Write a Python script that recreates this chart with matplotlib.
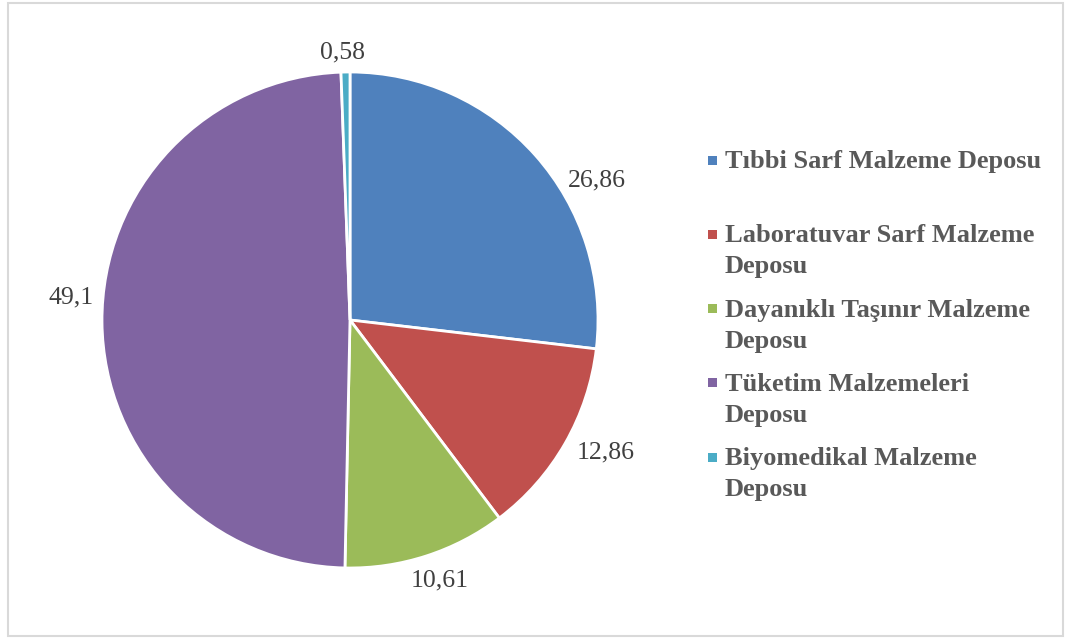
import matplotlib.pyplot as plt
from matplotlib.patches import Rectangle
import numpy as np

categories = ['Tıbbi Sarf Malzeme Deposu',
              'Laboratuvar Sarf Malzeme\nDeposu',
              'Dayanıklı Taşınır Malzeme\nDeposu',
              'Tüketim Malzemeleri\nDeposu',
              'Biyomedikal Malzeme\nDeposu']
values = [26.86, 12.86, 10.61, 49.1, 0.58]
value_labels = ['26,86', '12,86', '10,61', '49,1', '0,58']
colors = ['#4F81BD', '#C0504D', '#9BBB59', '#8064A2', '#4BACC6']

# Excel "best fit" label placement (angle in degrees, distance in radii)
label_angles = [29.5, -27.4, -70.9, 175.3, 91.5]
label_dists = [1.145, 1.16, 1.11, 1.13, 1.08]

plt.rcParams['font.family'] = ['Liberation Serif', 'DejaVu Serif']

W, H = 1070, 639
fig = plt.figure(figsize=(W / 100, H / 100), dpi=100)
fig.add_artist(Rectangle((8 / W, 3 / H), 1055 / W, 633 / H, transform=fig.transFigure,
                         fill=False, edgecolor='#D9D9D9', linewidth=1.5))

# pie centered at (350, 320) px, radius 248 px
cx, cy, r = 350, 320, 248
ax = fig.add_axes([(cx - r) / W, (H - cy - r) / H, 2 * r / W, 2 * r / H])
wedges, texts = ax.pie(values, colors=colors, startangle=90, counterclock=False,
                       labels=value_labels,
                       wedgeprops=dict(edgecolor='white', linewidth=2),
                       textprops=dict(fontsize=18.5, color='#404040'))
ax.set_xlim(-1, 1)
ax.set_ylim(-1, 1)
ax.set_aspect('equal')
for t, ang, d in zip(texts, label_angles, label_dists):
    a = np.deg2rad(ang)
    t.set_position((d * np.cos(a), d * np.sin(a)))
    t.set_ha('center')
    t.set_va('center')

# legend
y0, step = 160, 74.3
for i, (lab, c) in enumerate(zip(categories, colors)):
    y = y0 + i * step
    fig.add_artist(Rectangle((708 / W, (H - y - 4.5) / H), 9 / W, 9 / H,
                             transform=fig.transFigure, color=c, linewidth=0))
    fig.text(725 / W, (H - y + 10) / H, lab, fontsize=19, fontweight='bold',
             color='#595959', ha='left', va='top', linespacing=1.45)

fig.savefig('out.png', dpi=100)
